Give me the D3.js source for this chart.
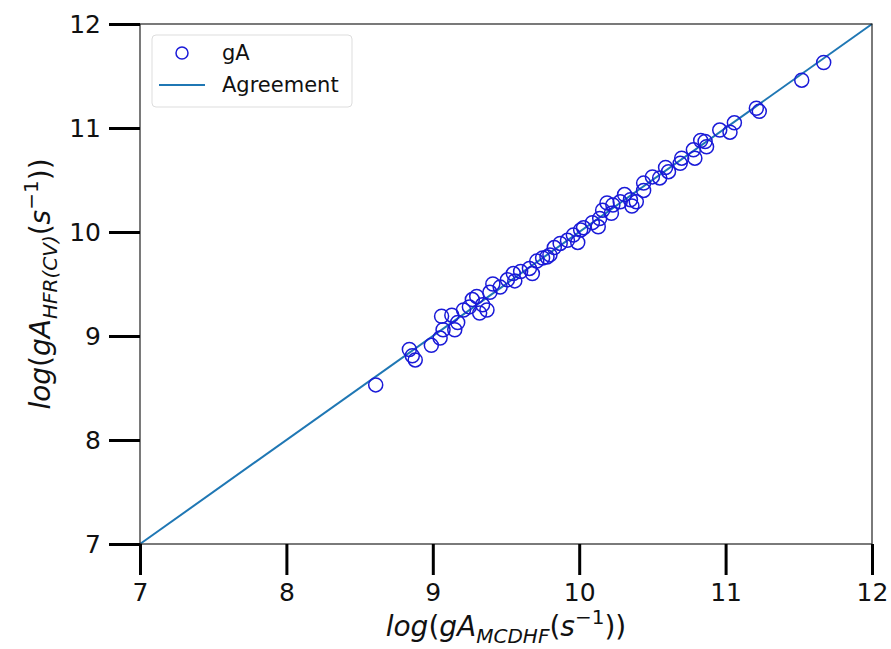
<!DOCTYPE html>
<html>
<head>
<meta charset="utf-8">
<script src="https://cdn.jsdelivr.net/npm/d3@7"></script>
<style>
  body { margin: 0; background: #fff; }
  text { font-family: "DejaVu Sans", sans-serif; }
</style>
</head>
<body>
<svg id="chart" width="891" height="649"></svg>
<script>
// log(gA) values, MCDHF on x, HFR(CV) on y
const gaMcdhf = [
  8.61, 8.84, 8.86, 8.88, 8.99, 9.05, 9.06, 9.13, 9.07, 9.15,
  9.17, 9.21, 9.25, 9.27, 9.30, 9.32, 9.34, 9.37, 9.39, 9.41,
  9.46, 9.51, 9.55, 9.56, 9.60, 9.66, 9.68, 9.71, 9.75, 9.78,
  9.80, 9.83, 9.87, 9.92, 9.96, 9.99, 10.01, 10.03, 10.09, 10.13,
  10.14, 10.16, 10.19, 10.22, 10.23, 10.28, 10.31, 10.35, 10.36, 10.39,
  10.44, 10.44, 10.50, 10.55, 10.59, 10.61, 10.69, 10.70, 10.78, 10.79,
  10.83, 10.86, 10.87, 10.96, 11.03, 11.06, 11.21, 11.23, 11.52, 11.67
];
const gaHfr = [
  8.53, 8.87, 8.81, 8.77, 8.91, 8.98, 9.19, 9.20, 9.06, 9.06,
  9.13, 9.25, 9.28, 9.35, 9.38, 9.22, 9.30, 9.25, 9.42, 9.50,
  9.47, 9.54, 9.60, 9.53, 9.62, 9.65, 9.60, 9.72, 9.75, 9.76,
  9.78, 9.85, 9.89, 9.92, 9.97, 9.90, 10.02, 10.04, 10.09, 10.05,
  10.13, 10.21, 10.28, 10.18, 10.26, 10.29, 10.36, 10.31, 10.25, 10.29,
  10.47, 10.40, 10.53, 10.52, 10.62, 10.58, 10.66, 10.71, 10.79, 10.71,
  10.88, 10.87, 10.82, 10.98, 10.96, 11.05, 11.19, 11.16, 11.46, 11.63
];
const agreement = [7, 12];
const tickValues = [7, 8, 9, 10, 11, 12];
const legendLabels = ['gA', 'Agreement'];

const width = 891;
const height = 649;
const margin = { top: 24, right: 19, bottom: 105, left: 140 };
const pointColor = '#1a1ad8';
const lineColor = '#1f77b4';

const svg = d3.select('#chart');

const x = d3.scaleLinear()
  .domain([7, 12])
  .range([margin.left, width - margin.right]);
const y = d3.scaleLinear()
  .domain([7, 12])
  .range([height - margin.bottom, margin.top]);

// Agreement line
svg.append('line')
  .attr('x1', x(agreement[0]))
  .attr('y1', y(agreement[0]))
  .attr('x2', x(agreement[1]))
  .attr('y2', y(agreement[1]))
  .attr('stroke', lineColor)
  .attr('stroke-width', 2);

// Scatter points
svg.append('g')
  .selectAll('circle')
  .data(gaMcdhf.map((d, i) => ({ x: d, y: gaHfr[i] })))
  .join('circle')
  .attr('cx', d => x(d.x))
  .attr('cy', d => y(d.y))
  .attr('r', 7)
  .attr('fill', 'none')
  .attr('stroke', pointColor)
  .attr('stroke-width', 1.5);

// Frame
svg.append('rect')
  .attr('x', margin.left)
  .attr('y', margin.top)
  .attr('width', width - margin.left - margin.right)
  .attr('height', height - margin.top - margin.bottom)
  .attr('fill', 'none')
  .attr('stroke', '#222')
  .attr('stroke-width', 1.2);

// Axes
const styleAxis = g => {
  g.select('.domain').remove();
  g.selectAll('.tick line')
    .attr('stroke', '#000')
    .attr('stroke-width', 3);
  g.selectAll('.tick text')
    .attr('fill', '#111')
    .style('font-size', '25px');
};

svg.append('g')
  .attr('transform', `translate(0,${height - margin.bottom})`)
  .call(d3.axisBottom(x).tickValues(tickValues).tickFormat(d3.format('d'))
    .tickSize(31).tickPadding(8))
  .call(styleAxis);

svg.append('g')
  .attr('transform', `translate(${margin.left},0)`)
  .call(d3.axisLeft(y).tickValues(tickValues).tickFormat(d3.format('d'))
    .tickSize(31).tickPadding(8))
  .call(styleAxis);

// Axis titles with subscript / superscript pieces
const addTitle = (sel, sub) => {
  sel.append('tspan').style('font-style', 'italic').text('log');
  sel.append('tspan').text('(');
  sel.append('tspan').style('font-style', 'italic').text('gA');
  sel.append('tspan').style('font-style', 'italic')
    .style('font-size', '20px').attr('dy', 7).text(sub);
  sel.append('tspan').attr('dy', -7).text('(');
  sel.append('tspan').style('font-style', 'italic').text('s');
  sel.append('tspan').style('font-size', '20px').attr('dy', -12).text('\u22121');
  sel.append('tspan').attr('dy', 12).text('))');
};

svg.append('text')
  .attr('x', (margin.left + width - margin.right) / 2)
  .attr('y', 636)
  .attr('text-anchor', 'middle')
  .style('font-size', '28px')
  .attr('fill', '#111')
  .call(addTitle, 'MCDHF');

svg.append('text')
  .attr('transform', `translate(50,${(margin.top + height - margin.bottom) / 2}) rotate(-90)`)
  .attr('text-anchor', 'middle')
  .style('font-size', '28px')
  .attr('fill', '#111')
  .call(addTitle, 'HFR(CV)');

// Legend
const legend = svg.append('g').attr('transform', 'translate(152,35)');
legend.append('rect')
  .attr('width', 200)
  .attr('height', 72)
  .attr('rx', 4)
  .attr('fill', '#fff')
  .attr('fill-opacity', 0.8)
  .attr('stroke', '#ddd')
  .attr('stroke-width', 1);
legend.append('circle')
  .attr('cx', 30)
  .attr('cy', 18)
  .attr('r', 6)
  .attr('fill', 'none')
  .attr('stroke', pointColor)
  .attr('stroke-width', 1.5);
legend.append('line')
  .attr('x1', 7)
  .attr('x2', 53)
  .attr('y1', 50)
  .attr('y2', 50)
  .attr('stroke', lineColor)
  .attr('stroke-width', 2);
legend.selectAll('text.label')
  .data(legendLabels)
  .join('text')
  .attr('class', 'label')
  .attr('x', 70)
  .attr('y', (d, i) => 18 + i * 32)
  .attr('dy', '0.35em')
  .style('font-size', '21px')
  .attr('fill', '#111')
  .text(d => d);
</script>
</body>
</html>
